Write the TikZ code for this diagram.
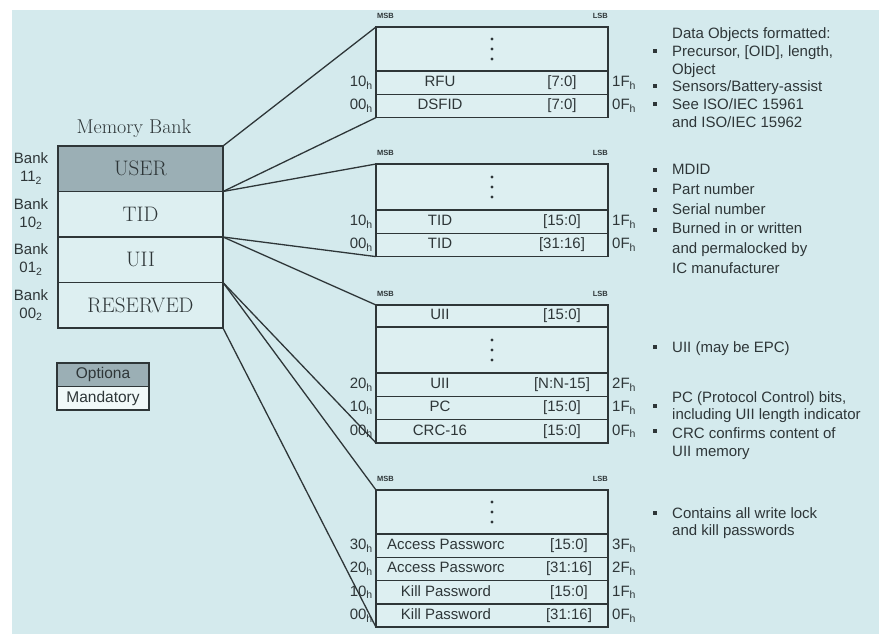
\documentclass[tikz,border=0pt]{standalone}
\usepackage{fontspec}
\setsansfont{Liberation Sans}
\usetikzlibrary{positioning}
\definecolor{bgblue}{HTML}{D4EAED}
\definecolor{cellblue}{HTML}{DDEFF1}
\definecolor{optgray}{HTML}{9BAFB5}
\definecolor{ink}{HTML}{2E3638}
\newcommand{\memfield}[3][128pt]{\makebox[232pt]{\makebox[#1]{#2}\hfill\makebox[92pt]{#3}}}

\begin{document}
\begin{tikzpicture}[
  x=1pt, y=-1pt,
  bank/.style={rectangle, draw=ink, line width=1.6pt, fill=cellblue, outer sep=0pt,
               minimum width=165pt, minimum height=45.5pt, inner sep=0pt,
               font=\fontsize{21}{24}\selectfont, text=ink},
  banklbl/.style={font=\sffamily\fontsize{15}{18}\selectfont, text=ink, align=center, inner sep=0pt},
  legend/.style={rectangle, draw=ink, line width=1.3pt, outer sep=0pt, minimum width=92pt,
                 minimum height=23.5pt, inner sep=0pt, font=\sffamily\fontsize{15.5}{18}\selectfont, text=ink},
  cell/.style={rectangle, draw=ink, line width=1.5pt, fill=cellblue, outer sep=0pt,
               minimum width=232pt, minimum height=23.3pt, inner sep=0pt,
               font=\sffamily\fontsize{15}{18}\selectfont, text=ink},
  dotcell/.style={cell, minimum height=#1},
  addr/.style={font=\sffamily\fontsize{15}{18}\selectfont, text=ink, inner sep=0pt, anchor=east, xshift=-3pt},
  haddr/.style={font=\sffamily\fontsize{15}{18}\selectfont, text=ink, inner sep=0pt, anchor=west, xshift=4pt},
  sb/.style={font=\sffamily\bfseries\fontsize{7.5}{8}\selectfont, text=ink, inner sep=0pt},
  note/.style={font=\sffamily\fontsize{15}{18}\selectfont, text=ink, align=left, inner sep=0pt, anchor=north west},
  bul/.style={rectangle, fill=ink, minimum size=3.5pt, inner sep=0pt},
  link/.style={draw=ink, line width=1.3pt}
]
\useasboundingbox (0,0) rectangle (879,634);
\fill[white] (0,0) rectangle (879,634);
\fill[bgblue] (12,10) rectangle (879,634);

% memory banks
\node[font=\fontsize{20}{24}\selectfont, text=ink] (title) at (134,129) {Memory Bank};
\node[bank, anchor=north west, fill=optgray] (user) at (58,146) {USER};
\node[bank, below=0pt of user] (tid) {TID};
\node[bank, below=0pt of tid] (uii) {UII};
\node[bank, below=0pt of uii] (reserved) {RESERVED};

\node[banklbl] (bk11) at (31,0 |- user.west) {Bank\\11\textsubscript{2}};
\node[banklbl] (bk10) at (31,0 |- tid.west) {Bank\\10\textsubscript{2}};
\node[banklbl] (bk01) at (31,0 |- uii.west) {Bank\\01\textsubscript{2}};
\node[banklbl] (bk00) at (31,0 |- reserved.west) {Bank\\00\textsubscript{2}};

\node[legend, fill=optgray, anchor=north west] (opt) at (57,363) {Optiona};
\node[legend, fill=white!60!cellblue, below=0pt of opt] (mand) {Mandatory};

% USER memory
\node[dotcell=44pt, anchor=north west] (dots1) at (376,27) {};
\node[cell, below=0pt of dots1] (rfu) {\memfield{RFU}{[7:0]}};
\node[cell, below=0pt of rfu] (dsfid) {\memfield{DSFID}{[7:0]}};
\node[sb, anchor=south west] (msb1) at ([xshift=1pt,yshift=8pt]dots1.north west) {MSB};
\node[sb, anchor=south east] (lsb1) at ([yshift=8pt]dots1.north east) {LSB};
\node[addr] (rfu-lo) at (rfu.west) {10\textsubscript{h}};
\node[haddr] (rfu-hi) at (rfu.east) {1F\textsubscript{h}};
\node[addr] (dsfid-lo) at (dsfid.west) {00\textsubscript{h}};
\node[haddr] (dsfid-hi) at (dsfid.east) {0F\textsubscript{h}};

% TID memory
\node[dotcell=46pt, anchor=north west] (dots2) at (376,164) {};
\node[cell, below=0pt of dots2] (tida) {\memfield{TID}{[15:0]}};
\node[cell, below=0pt of tida] (tidb) {\memfield{TID}{[31:16]}};
\node[sb, anchor=south west] (msb2) at ([xshift=1pt,yshift=8pt]dots2.north west) {MSB};
\node[sb, anchor=south east] (lsb2) at ([yshift=8pt]dots2.north east) {LSB};
\node[addr] (tida-lo) at (tida.west) {10\textsubscript{h}};
\node[haddr] (tida-hi) at (tida.east) {1F\textsubscript{h}};
\node[addr] (tidb-lo) at (tidb.west) {00\textsubscript{h}};
\node[haddr] (tidb-hi) at (tidb.east) {0F\textsubscript{h}};

% UII memory
\node[cell, anchor=north west, minimum height=22pt] (uiia) at (376,305) {\memfield{UII}{[15:0]}};
\node[dotcell=46pt, below=0pt of uiia] (dots3) {};
\node[cell, below=0pt of dots3] (uiin) {\memfield{UII}{[N:N-15]}};
\node[cell, below=0pt of uiin] (pc) {\memfield{PC}{[15:0]}};
\node[cell, below=0pt of pc] (crc) {\memfield{CRC-16}{[15:0]}};
\node[sb, anchor=south west] (msb3) at ([xshift=1pt,yshift=8pt]uiia.north west) {MSB};
\node[sb, anchor=south east] (lsb3) at ([yshift=8pt]uiia.north east) {LSB};
\node[addr] (uiin-lo) at (uiin.west) {20\textsubscript{h}};
\node[haddr] (uiin-hi) at (uiin.east) {2F\textsubscript{h}};
\node[addr] (pc-lo) at (pc.west) {10\textsubscript{h}};
\node[haddr] (pc-hi) at (pc.east) {1F\textsubscript{h}};
\node[addr] (crc-lo) at (crc.west) {00\textsubscript{h}};
\node[haddr] (crc-hi) at (crc.east) {0F\textsubscript{h}};

% RESERVED memory
\node[dotcell=44pt, anchor=north west] (dots4) at (376,490) {};
\node[cell, below=0pt of dots4] (acca) {\memfield[154pt]{Access Passworc}{[15:0]}};
\node[cell, below=0pt of acca] (accb) {\memfield[154pt]{Access Passworc}{[31:16]}};
\node[cell, below=0pt of accb] (killa) {\memfield[154pt]{Kill Password}{[15:0]}};
\node[cell, below=0pt of killa] (killb) {\memfield[154pt]{Kill Password}{[31:16]}};
\node[sb, anchor=south west] (msb4) at ([xshift=1pt,yshift=8pt]dots4.north west) {MSB};
\node[sb, anchor=south east] (lsb4) at ([yshift=8pt]dots4.north east) {LSB};
\node[addr] (acca-lo) at (acca.west) {30\textsubscript{h}};
\node[haddr] (acca-hi) at (acca.east) {3F\textsubscript{h}};
\node[addr] (accb-lo) at (accb.west) {20\textsubscript{h}};
\node[haddr] (accb-hi) at (accb.east) {2F\textsubscript{h}};
\node[addr] (killa-lo) at (killa.west) {10\textsubscript{h}};
\node[haddr] (killa-hi) at (killa.east) {1F\textsubscript{h}};
\node[addr] (killb-lo) at (killb.west) {00\textsubscript{h}};
\node[haddr] (killb-hi) at (killb.east) {0F\textsubscript{h}};

\foreach \c in {dots1,dots2,dots3,dots4}
  \foreach \d in {-10,0,10}
    \fill[ink] ([yshift=\d pt]\c.center) circle (1.7pt);

% links
\draw[link] (user.north east) -- (dots1.north west);
\draw[link] (user.south east) -- (dsfid.south west);
\draw[link] (tid.north east) -- (dots2.north west);
\draw[link] (tid.south east) -- (tidb.south west);
\draw[link] (uii.north east) -- (uiia.north west);
\draw[link] (uii.south east) -- (crc.south west);
\draw[link] (reserved.north east) -- (dots4.north west);
\draw[link] (reserved.south east) -- (killb.south west);

% notes
\node[note] (n1) at (672,27) {Data Objects formatted:\\Precursor, [OID], length,\\Object};
\node[note] (n2) at (672,80) {Sensors/Battery-assist};
\node[note] (n3) at (672,98) {See ISO/IEC 15961\\and ISO/IEC 15962};
\node[note, font=\sffamily\fontsize{15}{19.8}\selectfont] (n4) at (672,164)
  {MDID\\Part number\\Serial number\\Burned in or written\\and permalocked by\\IC manufacturer};
\node[note] (n5) at (672,341) {UII (may be EPC)};
\node[note, font=\sffamily\fontsize{15}{17}\selectfont] (n6) at (672,391)
  {PC (Protocol Control) bits,\\including UII length indicator};
\node[note] (n7) at (672,427) {CRC confirms content of\\UII memory};
\node[note, font=\sffamily\fontsize{15}{17}\selectfont] (n8) at (672,507)
  {Contains all write lock\\and kill passwords};

\node[bul] (b1) at (655,51) {};
\node[bul] (b2) at (655,86) {};
\node[bul] (b3) at (655,104) {};
\node[bul] (b4) at (655,170) {};
\node[bul] (b5) at (655,190) {};
\node[bul] (b6) at (655,210) {};
\node[bul] (b7) at (655,230) {};
\node[bul] (b8) at (655,347) {};
\node[bul] (b9) at (655,406) {};
\node[bul] (b10) at (655,431) {};
\node[bul] (b11) at (655,513) {};
\end{tikzpicture}
\end{document}
